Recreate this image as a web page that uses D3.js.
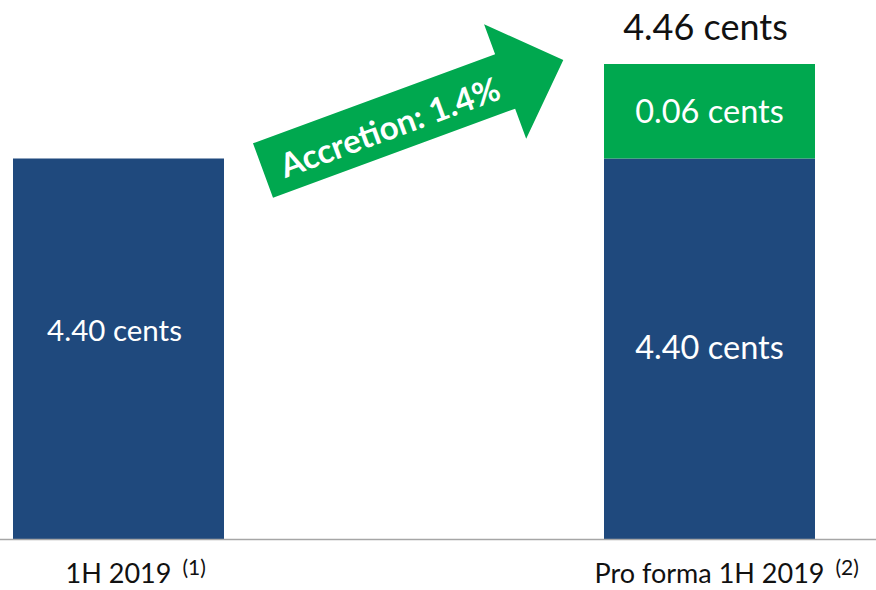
<!DOCTYPE html>
<html>
<head>
<meta charset="utf-8">
<script src="https://cdn.jsdelivr.net/npm/d3@7"></script>
<style>
  body { margin: 0; background: #fff; }
  svg { display: block; font-family: Lato, "Noto Sans", sans-serif; }
</style>
</head>
<body>
<div id="figure"></div>
<script>
'use strict';

const categories = ["1H 2019", "Pro forma 1H 2019"];
const footnotes = ["(1)", "(2)"];
const baseValues = [4.40, 4.40];
const accretionValues = [0, 0.06];
const accretionLabel = "Accretion: 1.4%";

const width = 876;
const height = 590;

const fmt = d => d3.format(".2f")(d) + " cents";

const x = d3.scaleBand()
  .domain(categories)
  .range([13, 815])
  .paddingInner(0.643);

// chart is not drawn to scale: the small accretion segment is stretched
const y = d3.scaleLinear()
  .domain([0, 4.40, 4.46])
  .range([539, 158.5, 64]);

const blue = "#1f497d";
const green = "#00a84f";

const svg = d3.select("div#figure")
  .append("svg")
  .attr("width", width)
  .attr("height", height)
  .attr("viewBox", [0, 0, width, height]);

const rows = categories.map((c, i) => ({
  cat: c,
  note: footnotes[i],
  base: baseValues[i],
  acc: accretionValues[i],
  total: baseValues[i] + accretionValues[i],
}));

// base bars
svg.append("g")
  .selectAll("rect")
  .data(rows)
  .join("rect")
  .attr("fill", blue)
  .attr("x", d => x(d.cat))
  .attr("width", x.bandwidth())
  .attr("y", d => y(d.base))
  .attr("height", d => y(0) - y(d.base));

// accretion segments
svg.append("g")
  .selectAll("rect")
  .data(rows.filter(d => d.acc > 0))
  .join("rect")
  .attr("fill", green)
  .attr("x", d => x(d.cat))
  .attr("width", x.bandwidth())
  .attr("y", d => y(d.total))
  .attr("height", d => y(d.base) - y(d.total));

// baseline
svg.append("line")
  .attr("x1", 0)
  .attr("x2", width)
  .attr("y1", y(0) + 0.5)
  .attr("y2", y(0) + 0.5)
  .attr("stroke", "#a6a6a6")
  .attr("stroke-width", 1.5);

// labels inside blue bars
svg.append("g")
  .selectAll("text")
  .data(rows)
  .join("text")
  .attr("fill", "#fff")
  .attr("text-anchor", "middle")
  .attr("dominant-baseline", "central")
  .attr("font-size", (d, i) => i == 0 ? 29.5 : 32.5)
  .attr("x", d => x(d.cat) + x.bandwidth() / 2 - (d.acc > 0 ? 0 : 4))
  .attr("y", d => (y(d.base) + y(0)) / 2 - (d.acc > 0 ? 2 : 19))
  .text(d => fmt(d.base));

// labels inside green segments
svg.append("g")
  .selectAll("text")
  .data(rows.filter(d => d.acc > 0))
  .join("text")
  .attr("fill", "#fff")
  .attr("text-anchor", "middle")
  .attr("dominant-baseline", "central")
  .attr("font-size", 32.5)
  .attr("x", d => x(d.cat) + x.bandwidth() / 2)
  .attr("y", d => (y(d.total) + y(d.base)) / 2 - 1)
  .text(d => fmt(d.acc));

// total label above
svg.append("g")
  .selectAll("text")
  .data(rows.filter(d => d.acc > 0))
  .join("text")
  .attr("fill", "#111")
  .attr("text-anchor", "middle")
  .attr("font-size", 36)
  .attr("x", d => x(d.cat) + x.bandwidth() / 2 - 4)
  .attr("y", d => y(d.total) - 24)
  .text(d => fmt(d.total));

// category labels with footnote markers
const cats = svg.append("g")
  .selectAll("g")
  .data(rows)
  .join("g");

cats.append("text")
  .attr("class", "cat")
  .attr("fill", "#111")
  .attr("text-anchor", "middle")
  .attr("font-size", 27)
  .attr("x", d => x(d.cat) + x.bandwidth() / 2)
  .attr("y", 583)
  .text(d => d.cat);

cats.each(function(d) {
  const t = d3.select(this).select("text.cat");
  const w = t.node().getComputedTextLength();
  d3.select(this).append("text")
    .attr("fill", "#111")
    .attr("font-size", 21)
    .attr("x", x(d.cat) + x.bandwidth() / 2 + w / 2 + 11)
    .attr("y", 575)
    .text(d.note);
});

// accretion arrow, drawn in a local frame and rotated
const shaftHalf = 29;
const headHalf = 61;
const headStart = 258;
const arrowLen = 320;
const arrowPts = [
  [0, -shaftHalf], [headStart, -shaftHalf], [headStart, -headHalf],
  [arrowLen, 0], [headStart, headHalf], [headStart, shaftHalf], [0, shaftHalf]
];

const tailX = x(categories[0]) + x.bandwidth() + 39;
const tailY = 170.5;

const arrow = svg.append("g")
  .attr("transform", `translate(${tailX}, ${tailY}) rotate(-20.2)`);

arrow.append("path")
  .attr("fill", green)
  .attr("d", d3.line()(arrowPts) + "Z");

arrow.append("text")
  .attr("fill", "#fff")
  .attr("font-weight", "bold")
  .attr("font-size", 33)
  .attr("text-anchor", "middle")
  .attr("dominant-baseline", "central")
  .attr("x", 134)
  .attr("y", 2)
  .text(accretionLabel);
</script>
</body>
</html>
